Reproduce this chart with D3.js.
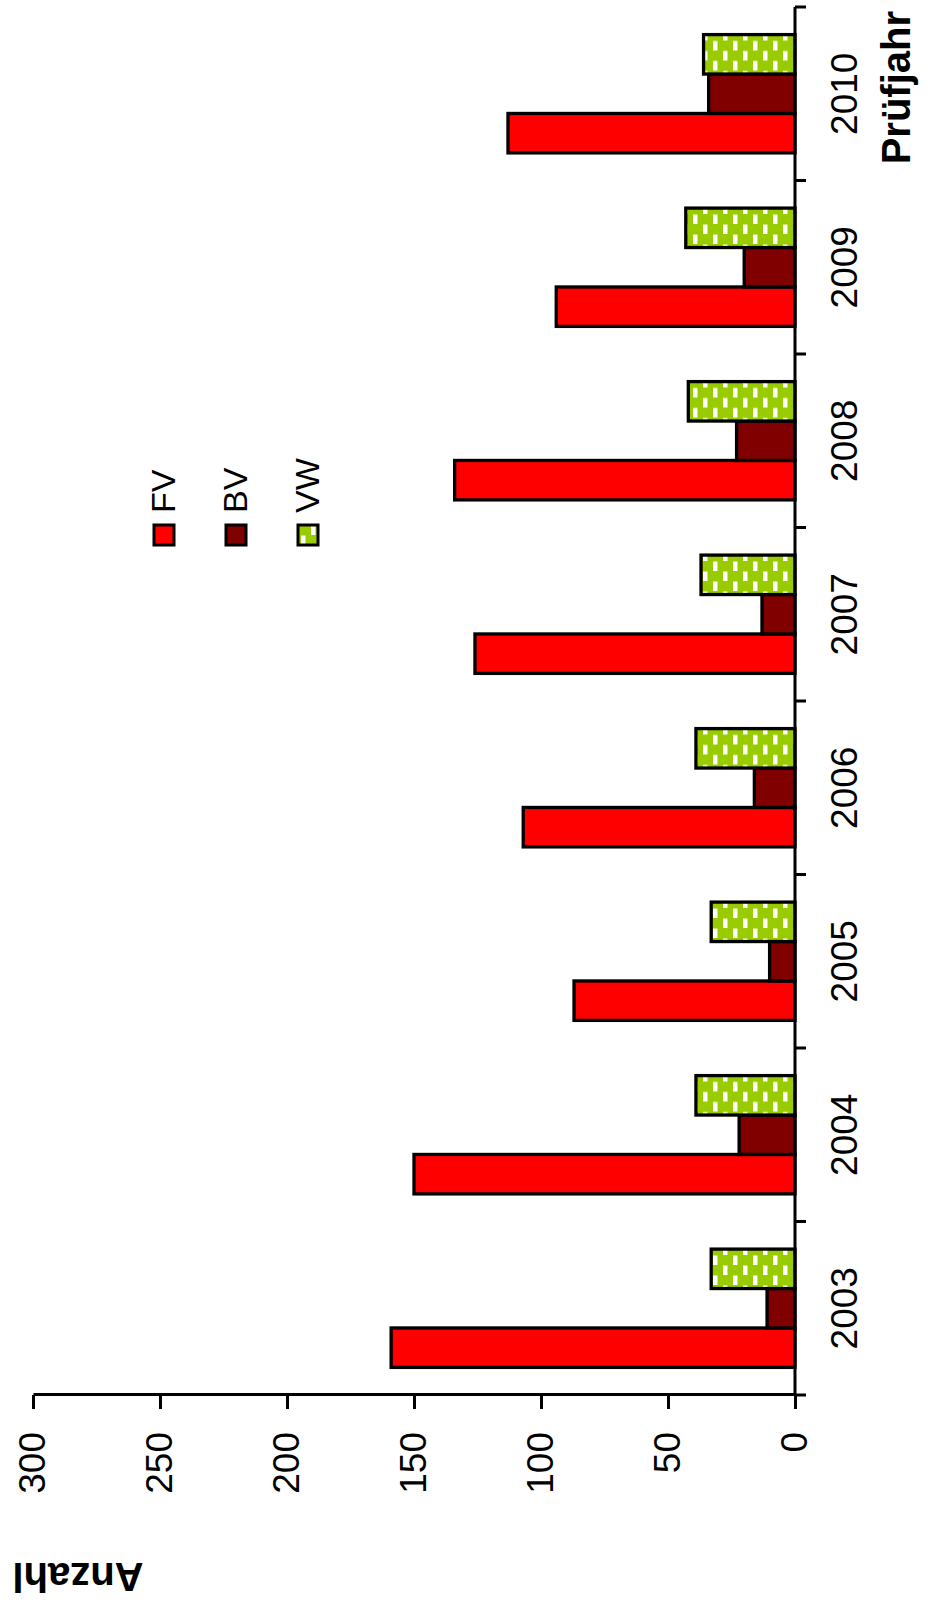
<!DOCTYPE html>
<html>
<head>
<meta charset="utf-8">
<script src="https://cdn.jsdelivr.net/npm/d3@7"></script>
<style>
  body { margin: 0; background: #fff; }
  svg { display: block; font-family: "Liberation Sans", Arial, sans-serif; }
</style>
</head>
<body>
<div id="chart"></div>
<script>
var years = ["2003", "2004", "2005", "2006", "2007", "2008", "2009", "2010"];
var fv = [159, 150, 87, 107, 126, 134, 94, 113];
var bv = [11, 22, 10, 16, 13, 23, 20, 34];
var vw = [33, 39, 33, 39, 37, 42, 43, 36];
var series = ["FV", "BV", "VW"];
var yTicks = [0, 50, 100, 150, 200, 250, 300];

var width = 930,
    height = 1603;

var colors = { FV: "#ff0000", BV: "#800000", VW: "url(#vwPattern)" };
var values = { FV: fv, BV: bv, VW: vw };

var svg = d3.select("#chart").append("svg")
    .attr("width", width)
    .attr("height", height);

// hatched fill for VW (drawn in the rotated frame)
var pat = svg.append("defs").append("pattern")
    .attr("id", "vwPattern")
    .attr("patternUnits", "userSpaceOnUse")
    .attr("width", 20)
    .attr("height", 20);
pat.append("rect").attr("width", 20).attr("height", 20).attr("fill", "#99cc00");
pat.append("rect").attr("x", 0).attr("y", 3).attr("width", 9.5).attr("height", 4.5).attr("fill", "#fff");
pat.append("rect").attr("x", 10).attr("y", 13).attr("width", 9.5).attr("height", 4.5).attr("fill", "#fff");

// whole chart is turned on its side
var g = svg.append("g")
    .attr("transform", "translate(0," + height + ") rotate(-90)");

var x0 = d3.scaleBand()
    .domain(years)
    .range([208, 1596]);

var x1 = d3.scaleBand()
    .domain(series)
    .range([0, x0.bandwidth()])
    .paddingInner(0)
    .paddingOuter(0.7);

var y = d3.scaleLinear()
    .domain([0, 300])
    .range([795, 33]);

// bars
years.forEach(function(yr, i) {
    g.append("g")
        .attr("transform", "translate(" + x0(yr) + ",0)")
        .selectAll("rect")
        .data(series)
        .enter()
        .append("rect")
        .attr("x", function(s) { return x1(s); })
        .attr("y", function(s) { return y(values[s][i]); })
        .attr("width", x1.bandwidth())
        .attr("height", function(s) { return y(0) - y(values[s][i]); })
        .attr("fill", function(s) { return colors[s]; })
        .attr("stroke", "#000")
        .attr("stroke-width", 3.3);
});

// value axis
var yAxis = g.append("g")
    .attr("transform", "translate(208,0)")
    .call(d3.axisLeft(y).tickValues(yTicks).tickSize(14).tickSizeOuter(0).tickPadding(23));
yAxis.attr("font-size", 37).attr("font-family", null);
yAxis.select(".domain").attr("stroke-width", 3);
yAxis.selectAll(".tick line").attr("stroke-width", 3);
yAxis.selectAll(".tick text").attr("fill", "#000");

// category axis
var bounds = years.map(function(d) { return x0(d); }).concat([x0.range()[1]]);
g.append("line")
    .attr("x1", x0.range()[0]).attr("x2", x0.range()[1])
    .attr("y1", y(0)).attr("y2", y(0))
    .attr("stroke", "#000").attr("stroke-width", 3);
g.selectAll(".ctick")
    .data(bounds)
    .enter()
    .append("line")
    .attr("class", "ctick")
    .attr("x1", function(d) { return d; }).attr("x2", function(d) { return d; })
    .attr("y1", y(0)).attr("y2", y(0) + 11)
    .attr("stroke", "#000").attr("stroke-width", 3);
g.selectAll(".clabel")
    .data(years)
    .enter()
    .append("text")
    .attr("class", "clabel")
    .attr("x", function(d) { return x0(d) + x0.bandwidth() / 2; })
    .attr("y", 857)
    .attr("text-anchor", "middle")
    .attr("font-size", 37)
    .text(function(d) { return d; });

// axis titles
g.append("text")
    .attr("x", 1592)
    .attr("y", 910)
    .attr("text-anchor", "end")
    .attr("font-size", 40)
    .attr("font-weight", "bold")
    .text("Prüfjahr");

g.append("text")
    .attr("transform", "translate(40,78) rotate(-90)")
    .attr("text-anchor", "middle")
    .attr("font-size", 40)
    .attr("font-weight", "bold")
    .text("Anzahl");

// legend
var legend = g.selectAll(".legend")
    .data(series)
    .enter()
    .append("g")
    .attr("class", "legend")
    .attr("transform", function(d, i) { return "translate(1058," + (154 + i * 72) + ")"; });
legend.append("rect")
    .attr("width", 20)
    .attr("height", 20)
    .attr("fill", function(d) { return colors[d]; })
    .attr("stroke", "#000")
    .attr("stroke-width", 3);
legend.append("text")
    .attr("x", 32)
    .attr("y", 21)
    .attr("font-size", 34)
    .text(function(d) { return d; });
</script>
</body>
</html>
